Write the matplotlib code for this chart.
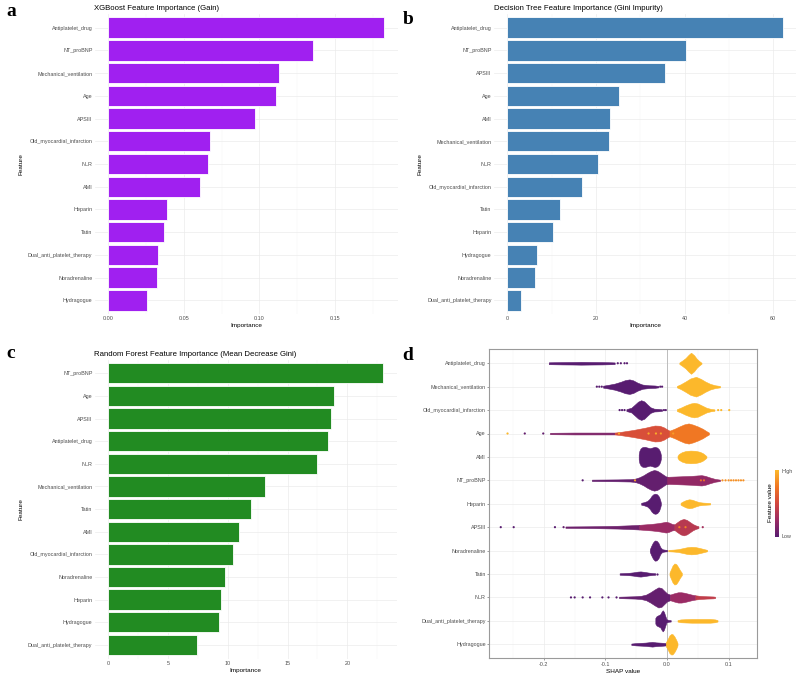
import matplotlib
matplotlib.use("Agg")
import matplotlib.pyplot as plt
import matplotlib.ticker as ticker
from matplotlib.colors import LinearSegmentedColormap
from matplotlib.cm import ScalarMappable
import numpy as np

plt.rcParams['font.family'] = ['Liberation Sans', 'DejaVu Sans']

# ---- panel a: XGBoost gain ----
xgb_features = ['Antiplatelet_drug', 'NT_proBNP', 'Mechanical_ventilation', 'Age', 'APSIII',
                'Old_myocardial_infarction', 'NLR', 'AMI', 'Heparin', 'Tatin',
                'Dual_anti_platelet_therapy', 'Noradrenaline', 'Hydragogue']
xgb_gain = [0.1824, 0.1356, 0.1131, 0.1112, 0.0968, 0.0675, 0.0659, 0.0607,
            0.0386, 0.0366, 0.0331, 0.0322, 0.0256]

# ---- panel b: decision tree gini ----
dt_features = ['Antiplatelet_drug', 'NT_proBNP', 'APSIII', 'Age', 'AMI', 'Mechanical_ventilation',
               'NLR', 'Old_myocardial_infarction', 'Tatin', 'Heparin', 'Hydragogue',
               'Noradrenaline', 'Dual_anti_platelet_therapy']
dt_gini = [62.1, 40.3, 35.6, 25.3, 23.2, 23.0, 20.4, 16.9, 11.8, 10.2, 6.8, 6.2, 3.1]

# ---- panel c: random forest mean decrease gini ----
rf_features = ['NT_proBNP', 'Age', 'APSIII', 'Antiplatelet_drug', 'NLR', 'Mechanical_ventilation',
               'Tatin', 'AMI', 'Old_myocardial_infarction', 'Noradrenaline', 'Heparin',
               'Hydragogue', 'Dual_anti_platelet_therapy']
rf_gini = [23.0, 18.9, 18.6, 18.4, 17.5, 13.1, 11.9, 10.9, 10.4, 9.8, 9.4, 9.3, 7.4]

# ---- panel d: SHAP summary (bands = (colour level, shap values, half widths)) ----
shap_features = ['Antiplatelet_drug', 'Mechanical_ventilation', 'Old_myocardial_infarction', 'Age',
                 'AMI', 'NT_proBNP', 'Heparin', 'APSIII', 'Noradrenaline', 'Tatin', 'NLR',
                 'Dual_anti_platelet_therapy', 'Hydragogue']

antiplatelet_bands = [
    (0.0, [-0.192, -0.170, -0.150, -0.140, -0.125, -0.105, -0.090, -0.085],
          [0.04, 0.05, 0.055, 0.06, 0.055, 0.05, 0.04, 0.035]),
    (1.0, [0.020, 0.025, 0.030, 0.035, 0.039, 0.044, 0.048, 0.052, 0.056],
          [0.03, 0.12, 0.22, 0.36, 0.45, 0.34, 0.20, 0.10, 0.02]),
]
antiplatelet_dots = [(-0.080, 0.0), (-0.075, 0.0), (-0.069, 0.0), (-0.065, 0.0)]

mechvent_bands = [
    (0.0, [-0.104, -0.095, -0.085, -0.075, -0.068, -0.061, -0.055, -0.048, -0.040, -0.030, -0.020, -0.014],
          [0.04, 0.08, 0.13, 0.21, 0.28, 0.31, 0.27, 0.17, 0.09, 0.06, 0.05, 0.03]),
    (1.0, [0.016, 0.022, 0.030, 0.038, 0.047, 0.055, 0.062, 0.070, 0.078, 0.086],
          [0.03, 0.10, 0.22, 0.35, 0.42, 0.33, 0.22, 0.12, 0.06, 0.03]),
]
mechvent_dots = [(-0.114, 0.0), (-0.110, 0.0), (-0.106, 0.0), (-0.011, 0.0), (-0.008, 0.0)]

oldmi_bands = [
    (0.0, [-0.066, -0.058, -0.052, -0.047, -0.042, -0.037, -0.032, -0.027, -0.021, -0.014, -0.008],
          [0.04, 0.10, 0.24, 0.36, 0.42, 0.37, 0.24, 0.12, 0.06, 0.05, 0.03]),
    (1.0, [0.016, 0.022, 0.030, 0.038, 0.044, 0.050, 0.057, 0.064, 0.071, 0.077],
          [0.04, 0.10, 0.20, 0.28, 0.31, 0.28, 0.19, 0.10, 0.05, 0.03]),
]
oldmi_dots = [(-0.077, 0.0), (-0.073, 0.0), (-0.069, 0.0), (-0.005, 0.0), (-0.002, 0.0),
              (0.083, 1.0), (0.088, 1.0), (0.101, 1.0)]

age_bands = [
    (0.15, [-0.190, -0.150, -0.120, -0.100, -0.085],
           [0.03, 0.04, 0.04, 0.04, 0.04]),
    (0.55, [-0.085, -0.075, -0.065, -0.055, -0.045, -0.035, -0.027, -0.020, -0.012, -0.005, 0.000, 0.004],
           [0.04, 0.07, 0.11, 0.15, 0.20, 0.25, 0.30, 0.34, 0.33, 0.26, 0.18, 0.12]),
    (0.75, [0.004, 0.012, 0.020, 0.028, 0.035, 0.042, 0.050, 0.058, 0.064, 0.068],
           [0.12, 0.20, 0.30, 0.39, 0.43, 0.38, 0.30, 0.20, 0.10, 0.04]),
]
age_dots = [(-0.259, 1.0), (-0.231, 0.05), (-0.201, 0.05), (-0.078, 0.95),
            (-0.030, 0.95), (-0.018, 0.95), (-0.010, 0.9), (0.010, 0.9)]

ami_bands = [
    (0.0, [-0.046, -0.045, -0.043, -0.040, -0.036, -0.032, -0.028, -0.024, -0.020, -0.016, -0.013, -0.011, -0.010],
          [0.10, 0.25, 0.36, 0.42, 0.43, 0.40, 0.37, 0.40, 0.43, 0.40, 0.32, 0.20, 0.08]),
    (1.0, [0.017, 0.019, 0.024, 0.030, 0.038, 0.046, 0.053, 0.058, 0.062, 0.064],
          [0.04, 0.12, 0.20, 0.25, 0.27, 0.26, 0.22, 0.16, 0.08, 0.03]),
]
ami_dots = []

ntprobnp_bands = [
    (0.05, [-0.122, -0.100, -0.080, -0.060, -0.052],
           [0.03, 0.035, 0.04, 0.05, 0.07]),
    (0.05, [-0.052, -0.045, -0.038, -0.032, -0.026, -0.021, -0.016, -0.011, -0.006, -0.002, 0.001],
           [0.07, 0.13, 0.22, 0.32, 0.40, 0.44, 0.41, 0.33, 0.24, 0.17, 0.15]),
    (0.22, [0.000, 0.010, 0.020, 0.030, 0.040, 0.050, 0.056, 0.062, 0.070, 0.078, 0.086],
           [0.15, 0.16, 0.17, 0.18, 0.19, 0.21, 0.22, 0.19, 0.12, 0.06, 0.03]),
]
ntprobnp_dots = [(-0.137, 0.0), (-0.052, 0.9), (0.055, 0.7), (0.060, 0.7), (0.090, 0.85),
                 (0.095, 0.85), (0.100, 0.85), (0.104, 0.85), (0.108, 0.85), (0.112, 0.85),
                 (0.116, 0.85), (0.120, 0.85), (0.124, 0.85)]

heparin_bands = [
    (0.0, [-0.042, -0.037, -0.032, -0.028, -0.025, -0.022, -0.019, -0.016, -0.013, -0.011, -0.010],
          [0.04, 0.07, 0.12, 0.22, 0.34, 0.41, 0.43, 0.40, 0.30, 0.15, 0.04]),
    (1.0, [0.022, 0.026, 0.031, 0.036, 0.041, 0.046, 0.052, 0.058, 0.064, 0.070],
          [0.04, 0.10, 0.16, 0.19, 0.17, 0.12, 0.07, 0.05, 0.04, 0.03]),
]
heparin_dots = []

apsiii_bands = [
    (0.08, [-0.165, -0.140, -0.120, -0.100, -0.080, -0.060, -0.045],
           [0.03, 0.035, 0.04, 0.05, 0.06, 0.08, 0.10]),
    (0.25, [-0.045, -0.035, -0.025, -0.015, -0.008, -0.002, 0.003, 0.008, 0.012],
           [0.10, 0.12, 0.14, 0.17, 0.20, 0.23, 0.20, 0.14, 0.12]),
    (0.38, [0.012, 0.017, 0.022, 0.027, 0.032, 0.037, 0.042, 0.047, 0.051],
           [0.12, 0.22, 0.31, 0.35, 0.31, 0.22, 0.13, 0.07, 0.04]),
]
apsiii_dots = [(-0.270, 0.0), (-0.249, 0.0), (-0.182, 0.0), (-0.168, 0.05), (0.058, 0.3),
               (0.020, 0.8), (0.030, 0.8)]

noradrenaline_bands = [
    (0.0, [-0.028, -0.026, -0.023, -0.020, -0.017, -0.014, -0.011, -0.008, -0.004, 0.000],
          [0.05, 0.18, 0.34, 0.43, 0.42, 0.33, 0.15, 0.06, 0.04, 0.03]),
    (1.0, [0.002, 0.010, 0.018, 0.025, 0.032, 0.039, 0.046, 0.053, 0.059, 0.065],
          [0.03, 0.04, 0.06, 0.10, 0.14, 0.16, 0.15, 0.11, 0.07, 0.03]),
]
noradrenaline_dots = []

tatin_bands = [
    (0.0, [-0.077, -0.070, -0.062, -0.055, -0.048, -0.043, -0.037, -0.030, -0.024, -0.019],
          [0.03, 0.04, 0.05, 0.07, 0.10, 0.11, 0.09, 0.06, 0.04, 0.03]),
    (1.0, [0.004, 0.006, 0.009, 0.012, 0.015, 0.018, 0.021, 0.024],
          [0.06, 0.18, 0.36, 0.45, 0.42, 0.30, 0.16, 0.05]),
]
tatin_dots = [(-0.016, 0.0)]

nlr_bands = [
    (0.05, [-0.078, -0.065, -0.052, -0.042, -0.034, -0.027, -0.020, -0.014, -0.009, -0.004, 0.000, 0.005],
           [0.03, 0.04, 0.05, 0.07, 0.12, 0.22, 0.34, 0.43, 0.40, 0.27, 0.17, 0.12]),
    (0.25, [0.005, 0.012, 0.018, 0.023, 0.028, 0.034, 0.040, 0.046],
           [0.12, 0.18, 0.22, 0.22, 0.20, 0.16, 0.12, 0.09]),
    (0.42, [0.046, 0.052, 0.058, 0.064, 0.070, 0.075, 0.078],
           [0.09, 0.07, 0.06, 0.05, 0.045, 0.04, 0.03]),
]
nlr_dots = [(-0.156, 0.0), (-0.150, 0.0), (-0.137, 0.0), (-0.125, 0.0), (-0.105, 0.0),
            (-0.095, 0.0), (-0.082, 0.0)]

dual_bands = [
    (0.0, [-0.019, -0.017, -0.014, -0.011, -0.009, -0.007, -0.005, -0.003, -0.001, 0.002, 0.006],
          [0.12, 0.20, 0.24, 0.28, 0.38, 0.45, 0.38, 0.22, 0.07, 0.04, 0.03]),
    (1.0, [0.017, 0.022, 0.030, 0.040, 0.050, 0.060, 0.070, 0.078, 0.082],
          [0.03, 0.06, 0.07, 0.08, 0.08, 0.08, 0.08, 0.06, 0.03]),
]
dual_dots = []

hydragogue_bands = [
    (0.0, [-0.058, -0.050, -0.042, -0.035, -0.028, -0.024, -0.018, -0.012, -0.006, -0.002],
          [0.03, 0.05, 0.06, 0.07, 0.09, 0.10, 0.08, 0.07, 0.06, 0.05]),
    (1.0, [-0.002, 0.001, 0.004, 0.007, 0.009, 0.012, 0.015, 0.017],
          [0.08, 0.22, 0.38, 0.44, 0.43, 0.33, 0.18, 0.05]),
]
hydragogue_dots = []

shap_bands = [antiplatelet_bands, mechvent_bands, oldmi_bands, age_bands, ami_bands,
              ntprobnp_bands, heparin_bands, apsiii_bands, noradrenaline_bands, tatin_bands,
              nlr_bands, dual_bands, hydragogue_bands]
shap_dots = [antiplatelet_dots, mechvent_dots, oldmi_dots, age_dots, ami_dots, ntprobnp_dots,
             heparin_dots, apsiii_dots, noradrenaline_dots, tatin_dots, nlr_dots, dual_dots,
             hydragogue_dots]

W, H = 800, 683
fig = plt.figure(figsize=(W / 100, H / 100), dpi=100)


def px_axes(left, top, right, bottom):
    return fig.add_axes([left / W, 1 - bottom / H, (right - left) / W, (bottom - top) / H])


def bar_panel(ax, names, values, color, xlim, step, fmt, title):
    y = np.arange(len(names))
    ax.barh(y, values, height=0.9, color=color, edgecolor='white', linewidth=0.6, zorder=2)
    ax.set_yticks(y)
    ax.set_yticklabels(names)
    ax.set_ylim(len(names) - 0.4, -0.6)
    ax.set_xlim(*xlim)
    ax.xaxis.set_major_locator(ticker.MultipleLocator(step))
    ax.xaxis.set_minor_locator(ticker.MultipleLocator(step / 2))
    ax.xaxis.set_major_formatter(ticker.FormatStrFormatter(fmt))
    ax.grid(which='major', color='#EBEBEB', linewidth=0.5, zorder=0)
    ax.grid(which='minor', axis='x', color='#F3F3F3', linewidth=0.35, zorder=0)
    ax.set_axisbelow(True)
    for s in ax.spines.values():
        s.set_visible(False)
    ax.tick_params(which='both', length=0, labelsize=3.9, labelcolor='#4D4D4D', pad=1.5)
    ax.set_xlabel('Importance', fontsize=4.6, labelpad=1.5)
    ax.set_ylabel('Feature', fontsize=4.6, labelpad=3)
    ax.set_title(title, loc='left', fontsize=5.6, pad=3)


ax_a = px_axes(94.5, 14, 397.7, 314)
bar_panel(ax_a, xgb_features, xgb_gain, '#A020F0', (-0.0091, 0.1915), 0.05, '%.2f',
          'XGBoost Feature Importance (Gain)')

ax_b = px_axes(493.6, 14, 796.3, 314)
bar_panel(ax_b, dt_features, dt_gini, '#4682B4', (-3.1, 65.2), 20, '%d',
          'Decision Tree Feature Importance (Gini Impurity)')

ax_c = px_axes(94.5, 359.7, 397, 658.5)
bar_panel(ax_c, rf_features, rf_gini, '#228B22', (-1.15, 24.15), 5, '%d',
          'Random Forest Feature Importance (Mean Decrease Gini)')

# ---- SHAP panel ----
cmap = LinearSegmentedColormap.from_list(
    'shap', ['#581C70', '#9A2B64', '#D2463E', '#F07623', '#FCB82B'])

ax_d = px_axes(489.3, 349.2, 756.7, 658.3)
for i, (bands, dots) in enumerate(zip(shap_bands, shap_dots)):
    for level, xs, ws in bands:
        xs = np.array(xs)
        ws = np.array(ws)
        ax_d.fill_between(xs, i - ws, i + ws, color=cmap(level), linewidth=0.4,
                          edgecolor=cmap(level), zorder=3)
    if dots:
        dx = [d[0] for d in dots]
        dc = [cmap(d[1]) for d in dots]
        ax_d.scatter(dx, [i] * len(dots), s=2.5, c=dc, linewidths=0, zorder=4)

ax_d.axvline(0, color='#BDBDBD', linewidth=0.7, zorder=2)
ax_d.set_xlim(-0.2886, 0.1456)
ax_d.set_ylim(len(shap_features) - 0.4, -0.6)
ax_d.set_yticks(np.arange(len(shap_features)))
ax_d.set_yticklabels(shap_features)
ax_d.xaxis.set_major_locator(ticker.MultipleLocator(0.1))
ax_d.xaxis.set_minor_locator(ticker.MultipleLocator(0.05))
ax_d.xaxis.set_major_formatter(ticker.FormatStrFormatter('%.1f'))
ax_d.grid(which='major', color='#EBEBEB', linewidth=0.5, zorder=0)
ax_d.grid(which='minor', axis='x', color='#F3F3F3', linewidth=0.35, zorder=0)
ax_d.set_axisbelow(True)
for s in ax_d.spines.values():
    s.set_color('#9A9A9A')
    s.set_linewidth(0.8)
ax_d.tick_params(which='major', length=1.5, width=0.4, color='#555555',
                 labelsize=3.9, labelcolor='#4D4D4D', pad=1)
ax_d.tick_params(which='minor', length=0)
ax_d.set_xlabel('SHAP value', fontsize=4.6, labelpad=1.5)

# colour bar
cax = px_axes(775, 470, 779, 537)
cbar = fig.colorbar(ScalarMappable(cmap=cmap), cax=cax, ticks=[])
cbar.outline.set_visible(False)
fig.text(782 / W, 1 - 472 / H, 'High', fontsize=3.9, color='#4D4D4D', va='center')
fig.text(782 / W, 1 - 536 / H, 'Low', fontsize=3.9, color='#4D4D4D', va='center')
fig.text(770 / W, 1 - 503 / H, 'Feature value', fontsize=4.6, rotation=90,
         ha='center', va='center')

# panel letters
for letter, x, y in [('a', 6, 15.7), ('b', 402.7, 24), ('c', 6, 358.3), ('d', 402.7, 360)]:
    fig.text(x / W, 1 - y / H, letter, fontsize=14, fontweight='bold',
             family='Liberation Serif', va='baseline')

fig.savefig('out.png', dpi=100)
